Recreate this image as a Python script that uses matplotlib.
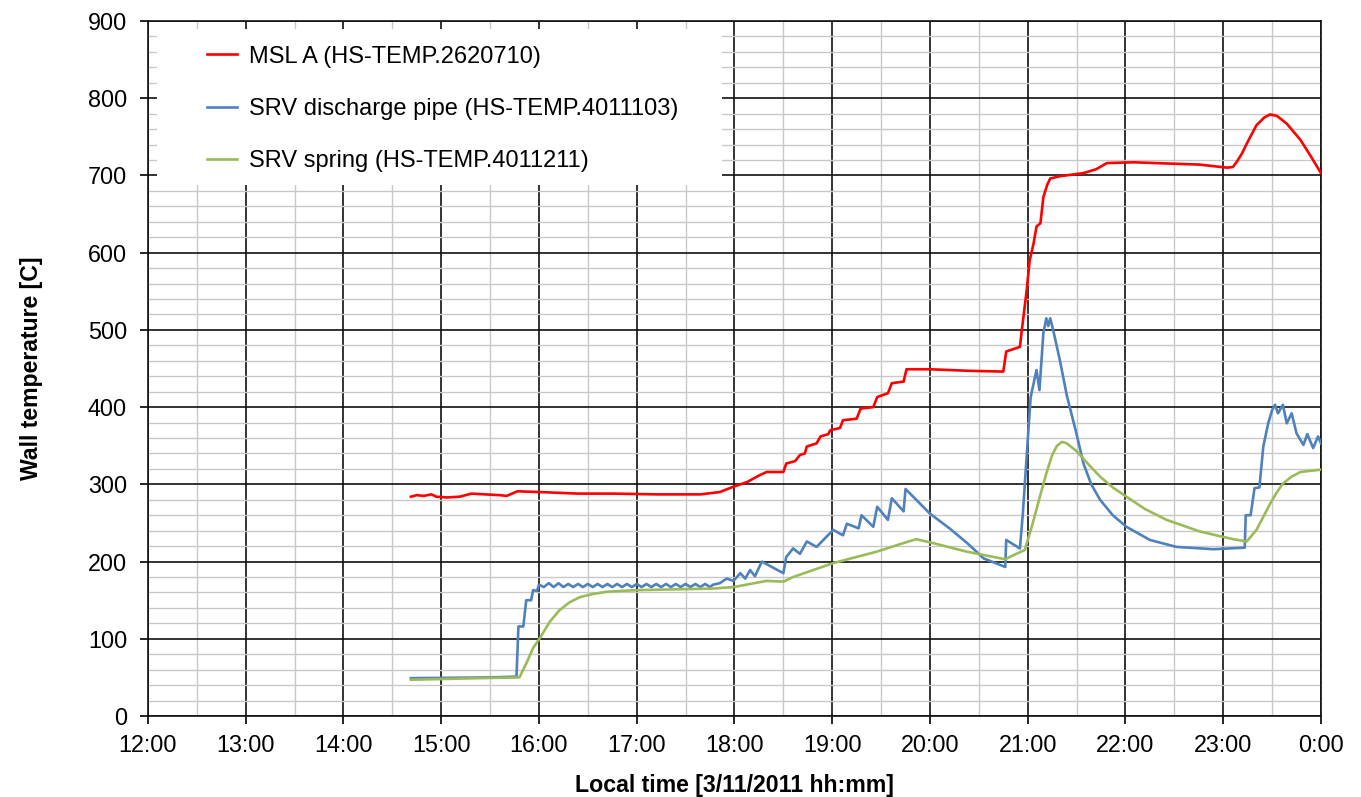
import matplotlib.pyplot as plt
from matplotlib.patches import Rectangle
from matplotlib.ticker import MultipleLocator

# time in decimal hours of 3/11/2011, values in C
msl_t = [14.69, 14.75, 14.82, 14.90, 14.95, 15.06, 15.19, 15.31, 15.45, 15.60, 15.67, 15.78,
         16.01, 16.40, 16.76, 17.20, 17.65, 17.85, 17.99, 18.13, 18.26, 18.33, 18.50, 18.53,
         18.62, 18.67, 18.72, 18.74, 18.84, 18.88, 18.96, 18.98, 19.08, 19.11, 19.25, 19.29,
         19.42, 19.46, 19.57, 19.61, 19.73, 19.76, 20.00, 20.40, 20.75, 20.78, 20.92, 20.94,
         20.99, 21.02, 21.06, 21.09, 21.13, 21.16, 21.20, 21.23, 21.33, 21.57, 21.70, 21.81,
         22.08, 22.76, 23.04, 23.10, 23.14, 23.19, 23.24, 23.34, 23.42, 23.48, 23.55, 23.65,
         23.79, 23.89, 24.00]
msl_v = [284, 286, 285, 287, 284, 283, 284, 288, 287, 286, 285, 291,
         290, 288, 288, 287, 287, 290, 297, 303, 312, 316, 316, 327,
         330, 338, 340, 349, 353, 362, 365, 370, 373, 383, 385, 398,
         400, 413, 418, 431, 433, 449, 449, 447, 446, 472, 478, 500,
         552, 590, 612, 634, 638, 672, 688, 696, 699, 703, 708, 716,
         717, 714, 710, 711, 718, 728, 741, 765, 775, 779, 777, 767,
         746, 726, 703]

pipe_t = [14.69, 15.50, 15.77, 15.79, 15.84, 15.87, 15.92, 15.94, 15.98, 16.00,
          16.05, 16.10, 16.15, 16.20, 16.25, 16.30, 16.35, 16.40, 16.45, 16.50, 16.55,
          16.60, 16.65, 16.70, 16.75, 16.80, 16.85, 16.90, 16.95, 17.00, 17.05, 17.10,
          17.15, 17.20, 17.25, 17.30, 17.35, 17.40, 17.45, 17.50, 17.55, 17.60, 17.65,
          17.70, 17.75, 17.78, 17.85, 17.92, 17.99, 18.06, 18.11, 18.16, 18.21, 18.28,
          18.50, 18.53, 18.60, 18.67, 18.74, 18.84, 19.01, 19.11, 19.15, 19.27, 19.30,
          19.42, 19.46, 19.57, 19.61, 19.73, 19.75, 20.00, 20.20, 20.38, 20.55, 20.77,
          20.78, 20.92, 20.95, 21.00, 21.03, 21.09, 21.12, 21.16, 21.19, 21.21, 21.23,
          21.26, 21.33, 21.40, 21.50, 21.57, 21.65, 21.74, 21.87, 22.01, 22.25, 22.52,
          22.90, 23.22, 23.23, 23.28, 23.32, 23.37, 23.41, 23.46, 23.50, 23.53, 23.56,
          23.61, 23.65, 23.70, 23.75, 23.82, 23.86, 23.92, 23.97, 24.00]
pipe_v = [49, 50, 51, 116, 116, 150, 150, 163, 162, 170,
          167, 172, 167, 172, 167, 171, 167, 171, 167, 171, 167,
          171, 167, 171, 167, 171, 167, 171, 167, 171, 167, 171,
          167, 171, 167, 171, 167, 171, 167, 171, 167, 171, 167,
          171, 167, 170, 172, 178, 175, 185, 178, 189, 181, 200,
          185, 206, 217, 210, 226, 219, 241, 234, 249, 243, 260,
          245, 271, 254, 282, 265, 294, 262, 243, 224, 204, 193,
          228, 217, 262, 357, 413, 448, 422, 496, 515, 505, 515,
          500, 460, 415, 365, 327, 300, 280, 260, 245, 228, 219,
          216, 218, 260, 260, 295, 296, 349, 379, 396, 403, 392,
          403, 379, 392, 366, 351, 365, 347, 362, 353]

spring_t = [14.69, 15.39, 15.80, 15.87, 15.94, 16.01, 16.11, 16.21, 16.31, 16.42, 16.55,
            16.70, 17.00, 17.78, 17.99, 18.33, 18.50, 18.60, 19.01, 19.46, 19.73, 19.86,
            20.03, 20.37, 20.77, 20.85, 20.97, 21.05, 21.12, 21.19, 21.25, 21.30, 21.35,
            21.40, 21.50, 21.62, 21.74, 21.87, 22.01, 22.20, 22.42, 22.76, 23.10, 23.24,
            23.34, 23.41, 23.48, 23.55, 23.61, 23.70, 23.79, 24.00]
spring_v = [47, 49, 50, 68, 88, 101, 122, 137, 147, 154, 158,
            161, 163, 165, 167, 175, 174, 180, 198, 213, 224, 229,
            224, 213, 203, 208, 215, 249, 282, 314, 338, 350, 355,
            353, 343, 326, 310, 296, 284, 268, 254, 239, 229, 226,
            241, 258, 275, 290, 301, 310, 316, 319]

hour_ticks = list(range(12, 25))
hour_labels = ["%d:00" % (h % 24) for h in hour_ticks]

plt.rcParams['font.family'] = ['Liberation Sans', 'DejaVu Sans']

fig = plt.figure(figsize=(13.61, 7.97), dpi=100)
ax = fig.add_axes([0.1087, 0.1016, 0.8619, 0.8721])

ax.plot(msl_t, msl_v, color='#ff0000', lw=1.9, zorder=3, label='MSL A (HS-TEMP.2620710)')
ax.plot(pipe_t, pipe_v, color='#4f81bd', lw=1.9, zorder=3, label='SRV discharge pipe (HS-TEMP.4011103)')
ax.plot(spring_t, spring_v, color='#9bbb59', lw=1.9, zorder=3, label='SRV spring (HS-TEMP.4011211)')

ax.set_xlim(12, 24)
ax.set_ylim(0, 900)
ax.set_xticks(hour_ticks)
ax.set_xticklabels(hour_labels)
ax.xaxis.set_minor_locator(MultipleLocator(0.5))
ax.yaxis.set_major_locator(MultipleLocator(100))
ax.yaxis.set_minor_locator(MultipleLocator(20))

ax.set_axisbelow(True)
ax.grid(which='major', color='#111111', lw=1.2)
ax.grid(which='minor', color='#c8c8c8', lw=1.0)
ax.tick_params(which='major', direction='out', length=6, width=1.2, labelsize=16.8)
ax.tick_params(axis='x', pad=7)
ax.tick_params(axis='y', pad=9)
ax.tick_params(which='minor', length=0)
for s in ax.spines.values():
    s.set_color('#111111')
    s.set_linewidth(1.2)

# white box behind the legend
ax.add_patch(Rectangle((0.008, 0.764), 0.481, 0.224, transform=ax.transAxes,
                       facecolor='white', edgecolor='none', zorder=1))
ax.legend(loc='upper left', bbox_to_anchor=(0.032, 0.995), frameon=False,
          fontsize=17, handlelength=1.3, handletextpad=0.5, labelspacing=1.28)

ax.set_xlabel('Local time [3/11/2011 hh:mm]', fontsize=16.7, fontweight='bold', labelpad=12)
ax.set_ylabel('Wall temperature [C]', fontsize=16.6, fontweight='bold', labelpad=32)

fig.savefig('out.png', dpi=100)
